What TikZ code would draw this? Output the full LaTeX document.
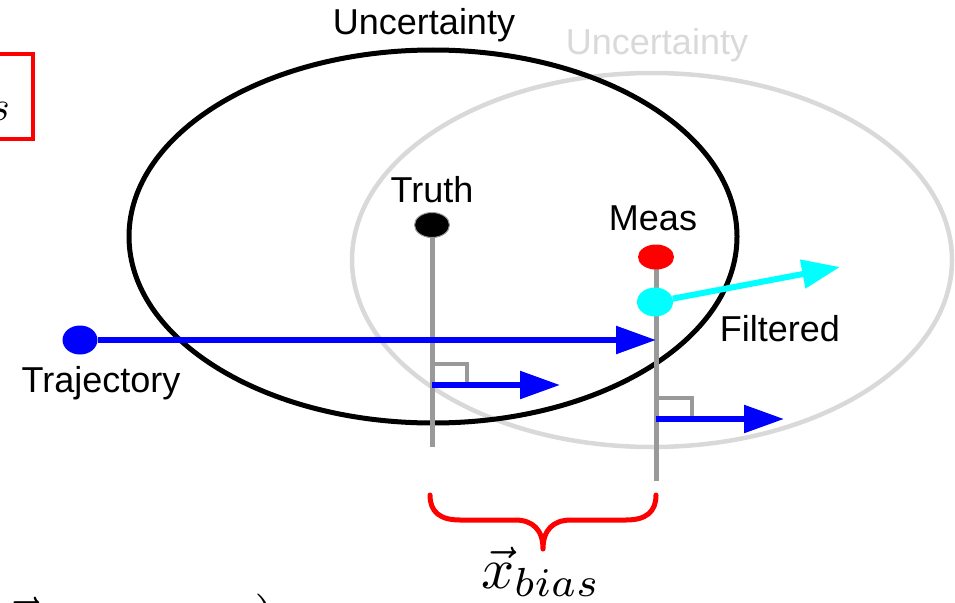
\documentclass[tikz,border=0pt]{standalone}
\usepackage{graphicx}
\usepackage{fontspec}
\setmainfont{Liberation Sans}
\usetikzlibrary{arrows.meta,shapes.geometric}
\definecolor{lgray}{HTML}{D9D9D9}
\definecolor{mgray}{HTML}{999999}
\definecolor{cyanrgb}{RGB}{0,255,255}
\definecolor{bluergb}{RGB}{0,0,255}
\definecolor{redrgb}{RGB}{255,0,0}
\tikzset{
  lbl/.style={anchor=base,inner sep=0pt,font=\fontsize{36}{43}\selectfont},
  dot/.style={ellipse,inner sep=0pt,minimum width=35pt,minimum height=27pt},
  stem/.style={draw=mgray,line width=5pt},
  rmark/.style={draw=mgray,line width=4pt},
  bluearrow/.style={draw=bluergb,line width=5.5pt,-{Triangle[length=40pt,width=27pt]}},
  mathlbl/.style={inner sep=0pt},
}
\begin{document}
\begin{tikzpicture}[x=1pt,y=-1pt]
\useasboundingbox (0,0) rectangle (955,602);
\clip (0,0) rectangle (955,602);
% partial elements at the edges
\draw[redrgb,line width=4pt] (-60,54) rectangle (33,139);
\node[mathlbl,anchor=base east] (s) at (10,120) {\scalebox{4.2}{$s$}};
\node[mathlbl,anchor=base west] (xl) at (4,638) {\scalebox{5.8}{$\vec{x}$}};
\node[mathlbl,anchor=base west] (pr) at (254,637) {\scalebox{5.8}{$)$}};
% uncertainty ellipses
\draw[lgray,line width=4.5pt] (652,260) ellipse [x radius=300, y radius=187];
\draw[black,line width=5pt] (433,236.5) ellipse [x radius=304, y radius=186.5];
\node[lbl] (unc1) at (424,35) {Uncertainty};
\node[lbl,text=lgray] (unc2) at (657,55) {Uncertainty};
% coordinates
\coordinate (tc) at (432,225);
\coordinate (mc) at (656,257);
\coordinate (tbot) at (432,447);
\coordinate (mbot) at (656,481);
\coordinate (ttip) at (560,385);
\coordinate (mtip) at (784,419);
\coordinate (tarr) at (432,385);
\coordinate (marr) at (656,419);
\coordinate (ftip) at (840,267);
\coordinate (trajtip) at (656,340);
% stems
\draw[stem] (tc) -- (tbot);
\draw[stem] (mc) -- (mbot);
\node[dot,fill=black,draw=mgray,line width=1pt,minimum width=35pt,minimum height=25pt] (truth) at (tc) {};
\node[dot,fill=redrgb,minimum width=36pt,minimum height=25pt] (meas) at (mc) {};
\node[lbl] (truthl) at (432,202) {Truth};
\node[lbl] (measl) at (653,230) {Meas};
% right-angle marks
\draw[rmark] (432,364) -- (467,364) -- (467,384);
\draw[rmark] (656,398) -- (692,398) -- (692,418);
\draw[bluearrow] (tarr) -- (ttip);
\draw[bluearrow] (marr) -- (mtip);
% trajectory
\node[dot,fill=bluergb,minimum width=35pt,minimum height=29pt] (traj) at (80,340) {};
\draw[bluearrow] (traj) -- (trajtip);
\node[lbl] (trajl) at (101,392) {Trajectory};
% filtered
\node[dot,fill=cyanrgb,minimum width=36pt,minimum height=29pt] (filt) at (655,302) {};
\draw[cyanrgb,line width=6pt,-{Triangle[length=38pt,width=28pt]}] (filt) -- (ftip);
\node[lbl] (filtl) at (780,341) {Filtered};
% brace
\draw[redrgb,line width=5pt,line cap=round,line join=round]
  (430,495) .. controls (430,512) and (440,520) .. (460,520) -- (515,520)
  .. controls (533,520) and (543,530) .. (543,549)
  .. controls (543,530) and (553,520) .. (571,520) -- (626,520)
  .. controls (646,520) and (656,512) .. (656,495);
\node[mathlbl,anchor=base] (bias) at (541,588) {\scalebox{5.8}{$\vec{x}_{bias}$}};
\end{tikzpicture}
\end{document}
